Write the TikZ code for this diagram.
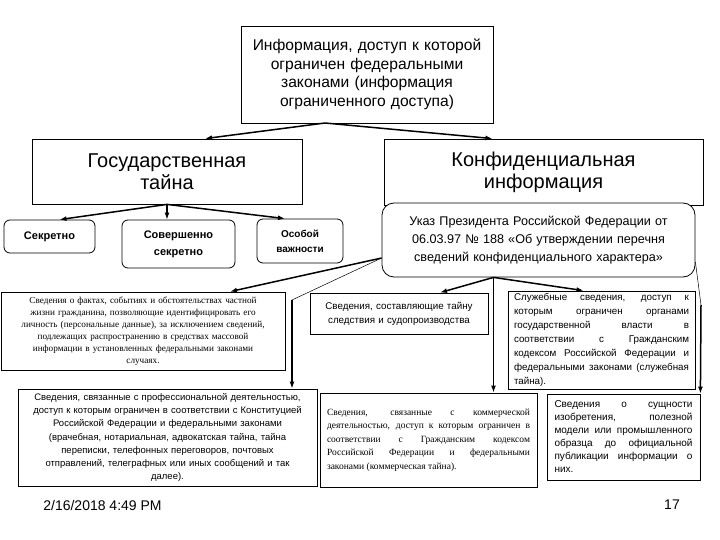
\documentclass[tikz,border=0pt]{standalone}
\usepackage{fontspec}
\setmainfont{Liberation Sans}
\newfontfamily\timesfam{Liberation Serif}
\usetikzlibrary{arrows.meta, calc}
\newcommand{\fsz}[2]{\fontsize{#1}{#2}\selectfont}

\begin{document}
\begin{tikzpicture}[x=1pt, y=-1pt,
  box/.style={draw, line width=0.8pt, inner sep=0pt, align=center, fill=white},
  rbox/.style={box, rounded corners=6pt},
  jbox/.style={box, align=justify},
  arr/.style={-{Latex[length=7pt,width=5pt]}, line width=1.5pt},
  thinline/.style={line width=0.5pt}]
  \useasboundingbox[fill=white] (0,0) rectangle (720,540);

  % верхний уровень
  \node[box, minimum width=252, minimum height=97, text width=248, font=\fsz{15.6}{18.5}] (info) at (367,74.5)
    {Информация, доступ к которой\\ограничен федеральными\\законами (информация\\ограниченного доступа)};
  \node[box, minimum width=270, minimum height=65, text width=260, font=\fsz{20}{22}] (gos) at (167,171.5)
    {Государственная\\тайна};
  \node[box, minimum width=319, minimum height=66, text width=300, font=\fsz{20}{22}] (konf) at (543.5,172)
    {Конфиденциальная\\информация};
  \node[box, rounded corners=12pt, minimum width=313, minimum height=74, text width=305, font=\fsz{12.6}{18}] (ukaz) at (538.5,240)
    {Указ Президента Российской Федерации от\\06.03.97 № 188 «Об утверждении перечня\\сведений конфиденциального характера»};

  % степени секретности
  \node[rbox, minimum width=91, minimum height=33, font=\fsz{11}{14}\bfseries] (sekr) at (49.5,236.5)
    {Секретно};
  \node[rbox, minimum width=113, minimum height=48, font=\fsz{11}{17}\bfseries] (sovsekr) at (178.5,244)
    {Совершенно\\секретно};
  \node[rbox, minimum width=86, minimum height=44, font=\fsz{10}{15}\bfseries] (osob) at (300,241)
    {Особой\\важности};

  % виды конфиденциальных сведений
  \node[box, minimum width=284, minimum height=78, text width=280, font=\timesfam\fsz{9.2}{12}] (priv) at (143,331)
    {Сведения о фактах, событиях и обстоятельствах частной\\жизни гражданина, позволяющие идентифицировать его\\личность (персональные данные), за исключением сведений,\\подлежащих распространению в средствах массовой\\информации в установленных федеральными законами\\случаях.};
  \node[box, minimum width=178, minimum height=41, text width=170, font=\fsz{9.8}{14}] (sost) at (399,313.5)
    {Сведения, составляющие тайну\\следствия и судопроизводства\par\vspace{8pt}};
  \node[jbox, minimum width=187, minimum height=98, text width=175, font=\fsz{9.8}{14}] (sluzh) at (601.5,340)
    {Служебные сведения, доступ к\linebreak которым ограничен органами\linebreak государственной власти в\linebreak соответствии с Гражданским\linebreak кодексом Российской Федерации и\linebreak федеральными законами (служебная\linebreak тайна).};
  \node[box, minimum width=299, minimum height=97, text width=295, font=\fsz{9.5}{13.3}] (prof) at (167.5,437.5)
    {Сведения, связанные с профессиональной деятельностью,\\доступ к которым ограничен в соответствии с Конституцией\\Российской Федерации и федеральными законами\\(врачебная, нотариальная, адвокатская тайна, тайна\\переписки, телефонных переговоров, почтовых\\отправлений, телеграфных или иных сообщений и так\\далее).};
  \node[jbox, minimum width=217, minimum height=94, text width=203, font=\timesfam\fsz{9.5}{13.5}] (comm) at (428.5,440)
    {Сведения, связанные с коммерческой\linebreak деятельностью, доступ к которым ограничен в\linebreak соответствии с Гражданским кодексом\linebreak Российской Федерации и федеральными\linebreak законами (коммерческая тайна).\par\vspace{20pt}};
  \node[jbox, minimum width=153, minimum height=86, text width=138, font=\fsz{10}{13}] (sush) at (623.5,437)
    {Сведения о сущности\linebreak изобретения, полезной\linebreak модели или промышленного\linebreak образца до официальной\linebreak публикации информации о\linebreak них.};

  \node[font=\fsz{14}{16}] (date) at (102.5,505) {2/16/2018 4:49 PM};
  \node[font=\fsz{14}{16}] (pnum) at (672,505) {17};

  % стрелки
  \coordinate (iapex) at (325,123);
  \draw[arr] (iapex) -- ([xshift=38pt]gos.north);
  \draw[arr] (iapex) -- ([xshift=-51pt]konf.north);

  \draw[arr] (gos.south) -- ([xshift=10pt]sekr.north);
  \draw[arr] (gos.south) -- (gos.south |- sovsekr.north);
  \draw[arr] (gos.south) -- ([xshift=-15pt]osob.north);

  \coordinate (uapex) at ([xshift=-45pt]ukaz.south);
  \draw[arr] (uapex) -- ([xshift=41pt]sost.north);
  \draw[arr] (uapex) -- ([xshift=-18pt]sluzh.north);
  \draw[arr] (uapex) -- (uapex |- comm.north);

  \coordinate (uleft) at ([yshift=-18pt]ukaz.west);
  \coordinate (pbend) at (292,300);
  \draw[arr] (uleft) -- ([xshift=87pt]priv.north);
  \draw[thinline] (uleft) -- (pbend);
  \draw[arr] (pbend) -- (pbend |- prof.north);

  \coordinate (sbend) at (701,305);
  \draw[thinline] ([yshift=-22pt]ukaz.east) -- (sbend);
  \draw[arr] (sbend) -- (sush.north east);
\end{tikzpicture}
\end{document}
